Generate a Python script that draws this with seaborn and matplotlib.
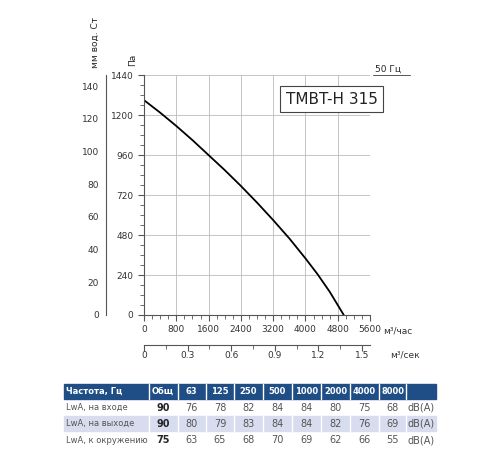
import matplotlib
matplotlib.use("Agg")
import matplotlib.pyplot as plt
import seaborn as sns
import pandas as pd
from matplotlib.patches import Rectangle
from matplotlib.ticker import FuncFormatter

sns.set_style("white")
plt.rcParams['font.family'] = ['DejaVu Sans']

flow = [0, 400, 800, 1200, 1600, 2000, 2400, 2800, 3200, 3600, 4000, 4300, 4600, 4950]
pressure = [1290, 1215, 1135, 1050, 960, 870, 775, 675, 570, 460, 340, 245, 140, 0]
model = "TMBT-H 315"
freq_hdr = ["Частота, Гц", "Общ", "63", "125", "250", "500", "1000", "2000", "4000", "8000", ""]
row_labels = ["LwA, на входе", "LwA, на выходе", "LwA, к окружению"]
totals = [90, 90, 75]
bands = [[76, 78, 82, 84, 84, 80, 75, 68],
         [80, 79, 83, 84, 84, 82, 76, 69],
         [63, 65, 68, 70, 69, 62, 66, 55]]

fig = plt.figure(figsize=(5, 4.5), dpi=100)
ax = fig.add_axes([0.288, 0.30, 0.452, 0.533])
df = pd.DataFrame({"q": flow, "p": pressure})
sns.lineplot(data=df, x="q", y="p", ax=ax, color="black", lw=1.3)
ax.set_xlim(0, 5600); ax.set_ylim(0, 1440)
ax.set_xticks(range(0, 5601, 800)); ax.set_yticks(range(0, 1441, 240))
ax.set_xticks(range(0, 5601, 200), minor=True); ax.set_yticks(range(0, 1441, 60), minor=True)
ax.grid(True, which="major", color="#bbbbbb", lw=0.6)
for s in ["top", "right"]:
    ax.spines[s].set_visible(False)
for s in ["left", "bottom"]:
    ax.spines[s].set_color("#555555")
ax.tick_params(which="both", direction="out", length=3, labelsize=6.5, color="#555555", labelcolor="#333333", left=True, bottom=True)
ax.tick_params(which="major", length=4)
ax.set_xlabel(""); ax.set_ylabel("")
ax.text(1.06, -0.065, "м³/час", transform=ax.transAxes, fontsize=6.5, va="center", ha="left", color="#333333")
ax.text(0.83, 0.9, model, transform=ax.transAxes, fontsize=11, ha="center", va="center",
        color="#222222", bbox=dict(boxstyle="square,pad=0.35", fc="white", ec="#444444", lw=0.8))
ax.text(-0.03, 1.04, "Па", transform=ax.transAxes, rotation=90, fontsize=6.5, ha="right", va="bottom")

# mm axis
ax2 = fig.add_axes([0.212, 0.30, 0.001, 0.533])
ax2.set_ylim(0, 1440 / 9.80665)
ax2.set_yticks(range(0, 141, 20)); ax2.set_yticks(range(0, 141, 10), minor=True)
ax2.set_xticks([])
for s in ["top", "right", "bottom"]:
    ax2.spines[s].set_visible(False)
ax2.spines["left"].set_color("#555555")
ax2.tick_params(which="both", direction="out", length=4, labelsize=6.5, color="#555555", labelcolor="#333333", pad=1)
ax2.tick_params(which="minor", length=3)
fig.text(0.19, 0.85, "мм вод. Ст", rotation=90, fontsize=6.5, ha="center", va="bottom")

# m3/s axis
ax3 = fig.add_axes([0.288, 0.232, 0.452, 0.001])
ax3.set_xlim(0, 5600 / 3600)
ax3.set_xticks([0, 0.3, 0.6, 0.9, 1.2, 1.5]); ax3.set_xticks([0.15, 0.45, 0.75, 1.05, 1.35], minor=True)
ax3.xaxis.set_major_formatter(FuncFormatter(lambda v, p: "0" if v == 0 else f"{v:g}"))
ax3.set_yticks([])
for s in ["left", "right", "bottom"]:
    ax3.spines[s].set_visible(False)
ax3.spines["top"].set_color("#555555")
ax3.tick_params(which="both", direction="in", top=True, bottom=False, labeltop=False, labelbottom=True,
                length=4, labelsize=6.5, color="#555555", labelcolor="#333333", pad=4)
ax3.tick_params(which="minor", length=3)
fig.text(0.78, 0.21, "м³/сек", fontsize=6.5, ha="left", va="center", color="#333333")

fig.text(0.75, 0.835, "50 Гц", fontsize=6.5, ha="left", va="bottom")
fig.add_artist(plt.Line2D([0.745, 0.82], [0.833, 0.833], color="#555555", lw=0.7))

# table
xs = [0.128, 0.297, 0.355, 0.412, 0.468, 0.525, 0.583, 0.642, 0.700, 0.758, 0.812, 0.872]
top = 1 - 384 / 450
rh = 0.033
fig.add_artist(Rectangle((xs[0], top - rh), xs[-1] - xs[0], rh, color="#1f4e86"))
for i in range(1, len(xs) - 1):
    fig.add_artist(plt.Line2D([xs[i], xs[i]], [top - rh, top], color="white", lw=1))
for i, h in enumerate(freq_hdr):
    if i == 0:
        fig.text(xs[0] + 0.005, top - rh / 2, h, color="white", fontsize=6, fontweight="bold", va="center")
    else:
        fig.text((xs[i] + xs[i + 1]) / 2, top - rh / 2, h, color="white", fontsize=6, fontweight="bold",
                 va="center", ha="center")
for r in range(3):
    yc = top - rh * (r + 1.5) - 0.003 * (r + 1)
    if r == 1:
        fig.add_artist(Rectangle((xs[0], yc - rh / 2), xs[-1] - xs[0], rh, color="#d7dcef"))
        for i in range(1, len(xs) - 1):
            fig.add_artist(plt.Line2D([xs[i], xs[i]], [yc - rh / 2, yc + rh / 2], color="white", lw=1))
    fig.text(xs[0] + 0.005, yc, row_labels[r], fontsize=6, va="center", color="#555555")
    fig.text((xs[1] + xs[2]) / 2, yc, str(totals[r]), fontsize=7, fontweight="bold", va="center", ha="center")
    for j, v in enumerate(bands[r]):
        fig.text((xs[j + 2] + xs[j + 3]) / 2, yc, str(v), fontsize=7, va="center", ha="center", color="#555555")
    fig.text((xs[10] + xs[11]) / 2, yc, "dB(A)", fontsize=7, va="center", ha="center", color="#555555")

fig.savefig("out.png", dpi=100)
